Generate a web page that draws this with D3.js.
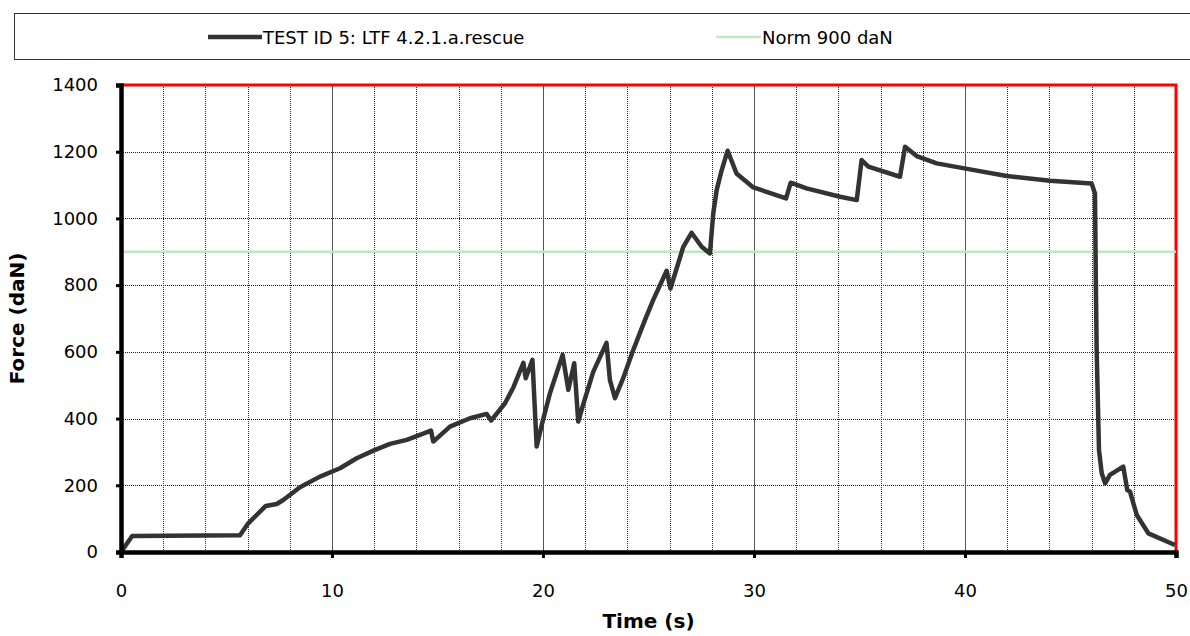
<!DOCTYPE html>
<html>
<head>
<meta charset="utf-8">
<script src="https://cdn.jsdelivr.net/npm/d3@7"></script>
<style>
  body { margin: 0; background: #fff; }
  text { font-family: "DejaVu Sans", Verdana, sans-serif; }
</style>
</head>
<body>
<svg id="chart" width="1190" height="636"></svg>
<script>
// time (s) and force (daN)
const times = [0, 0.53, 5.64, 6.03, 6.86, 7.38, 7.69, 8.48, 9.43, 10.38, 11.17, 11.96, 12.75, 13.54, 14.17, 14.69, 14.8,
  15.59, 16.54, 17.33, 17.54, 18.2, 18.6, 19.07, 19.18, 19.5, 19.7, 19.94, 20.33, 20.93, 21.2, 21.48, 21.67, 21.9,
  22.38, 23.01, 23.17, 23.41, 23.8, 24.28, 24.83, 25.22, 25.86, 26.04, 26.65, 27.04, 27.52, 27.91, 28.07, 28.23,
  28.47, 28.75, 29.17, 29.97, 31.52, 31.74, 32.49, 34.08, 34.87, 35.1, 35.42, 36.92, 37.16, 37.71, 38.66, 39.97,
  41.98, 44.03, 46.0, 46.16, 46.2, 46.24, 46.35, 46.48, 46.64, 46.87, 47.5, 47.69, 47.82, 48.14, 48.69, 49.95];
const forces = [0, 48, 50, 86, 138, 144, 156, 194, 226, 251, 281, 304, 324, 336, 351, 364, 331,
  376, 401, 414, 394, 446, 494, 567, 521, 576, 316, 381, 476, 591, 486, 566, 391, 441,
  540, 627, 516, 461, 521, 606, 695, 755, 843, 790, 915, 957, 915, 895, 1015, 1085,
  1145, 1203, 1135, 1093, 1060, 1107, 1090, 1065, 1055, 1175, 1155, 1125, 1215, 1187, 1165, 1150,
  1127, 1113, 1105, 1075, 815, 605, 306, 236, 206, 231, 256, 186, 181, 111, 56, 21];
const normValue = 900;
const seriesNames = ["TEST ID 5: LTF 4.2.1.a.rescue", "Norm 900 daN"];
const xTicks = [0, 10, 20, 30, 40, 50];
const yTicks = [0, 200, 400, 600, 800, 1000, 1200, 1400];

const svg = d3.select('#chart');
const plotL = 121, plotR = 1176, plotT = 85, plotB = 552;
const fontSize = 18;

const x = d3.scaleLinear().domain([0, 50]).range([plotL, plotR]);
const y = d3.scaleLinear().domain([0, 1400]).range([plotB, plotT]);

// legend box
svg.append('rect')
  .attr('x', 14.5).attr('y', 13.5).attr('width', 1180).attr('height', 46)
  .attr('fill', '#fff').attr('stroke', '#333').attr('stroke-width', 1);
const legendY = 37;
svg.append('line').attr('x1', 208).attr('x2', 262).attr('y1', legendY).attr('y2', legendY)
  .attr('stroke', '#333').attr('stroke-width', 4.5);
svg.append('text').attr('x', 263).attr('y', legendY + 6.5).attr('font-size', 18).text(seriesNames[0]);
svg.append('line').attr('x1', 716).attr('x2', 761).attr('y1', legendY).attr('y2', legendY)
  .attr('stroke', '#c2e6c2').attr('stroke-width', 2.5);
svg.append('text').attr('x', 762).attr('y', legendY + 6.5).attr('font-size', 18).text(seriesNames[1]);

// grid: horizontal every 200, vertical every 2 s (solid at multiples of 10)
svg.append('g').selectAll('line')
  .data(yTicks.filter(v => v > 0 && v < 1400))
  .join('line')
  .attr('x1', plotL).attr('x2', plotR)
  .attr('y1', d => Math.round(y(d)) + 0.5).attr('y2', d => Math.round(y(d)) + 0.5)
  .attr('stroke', '#222').attr('stroke-width', 1).attr('stroke-dasharray', '1,1');

svg.append('g').selectAll('line')
  .data(d3.range(2, 50, 2))
  .join('line')
  .attr('x1', d => Math.round(x(d)) + 0.5).attr('x2', d => Math.round(x(d)) + 0.5)
  .attr('y1', plotT).attr('y2', plotB)
  .attr('stroke', d => d % 10 === 0 ? '#555' : '#333')
  .attr('stroke-width', 1)
  .attr('stroke-dasharray', d => d % 10 === 0 ? null : '1,1');

// plot frame: red top and right
svg.append('path')
  .attr('d', `M${plotL},${plotT}H${plotR}V${plotB}`)
  .attr('fill', 'none').attr('stroke', '#ff0000').attr('stroke-width', 3);

// norm line
svg.append('line')
  .attr('x1', plotL).attr('x2', plotR)
  .attr('y1', y(normValue)).attr('y2', y(normValue))
  .attr('stroke', '#c2e6c2').attr('stroke-width', 2.5);

// test curve
const line = d3.line()
  .x((d, i) => x(times[i]))
  .y(d => y(d));
svg.append('path')
  .datum(forces)
  .attr('d', line)
  .attr('fill', 'none').attr('stroke', '#333')
  .attr('stroke-width', 4.5).attr('stroke-linejoin', 'round');

// axes
const xAxis = d3.axisBottom(x).tickValues(xTicks).tickSize(6).tickPadding(26)
  .tickFormat(d3.format('d'));
const gx = svg.append('g').attr('transform', `translate(0,${plotB})`).call(xAxis);
gx.select('.domain').attr('stroke', '#000').attr('stroke-width', 4.5);
gx.selectAll('.tick line').attr('stroke', '#000').attr('stroke-width', 3);
gx.selectAll('text').attr('font-size', fontSize).attr('fill', '#000')
  .style('font-family', '"DejaVu Sans", Verdana, sans-serif');

const yAxis = d3.axisLeft(y).tickValues(yTicks).tickSize(5).tickPadding(18)
  .tickFormat(d3.format('d'));
const gy = svg.append('g').attr('transform', `translate(${plotL},0)`).call(yAxis);
gy.select('.domain').attr('stroke', '#000').attr('stroke-width', 4.5);
gy.selectAll('.tick line').attr('stroke', '#000').attr('stroke-width', 3);
gy.selectAll('text').attr('font-size', fontSize).attr('fill', '#000')
  .style('font-family', '"DejaVu Sans", Verdana, sans-serif');

// axis titles
svg.append('text')
  .attr('x', (plotL + plotR) / 2).attr('y', 628)
  .attr('text-anchor', 'middle').attr('font-size', 20).attr('font-weight', 'bold')
  .text('Time (s)');
svg.append('text')
  .attr('transform', `translate(24,${(plotT + plotB) / 2}) rotate(-90)`)
  .attr('text-anchor', 'middle').attr('font-size', 20).attr('font-weight', 'bold')
  .text('Force (daN)');
</script>
</body>
</html>
